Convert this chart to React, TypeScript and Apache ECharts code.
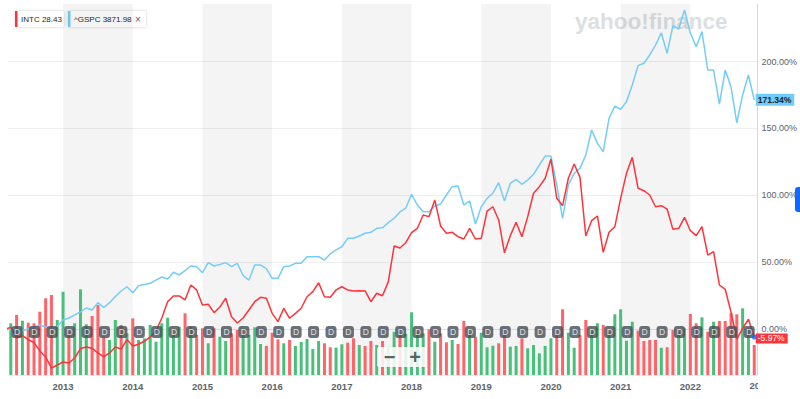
import React, { useEffect, useRef } from 'react';
import * as echarts from 'echarts';

// ---- data (monthly, first month 2012-03) ----
const firstMonth = '2012-03';
const intcPct = [
  0, 1.2, -6.7, -4.9, -7.9, -10.1, -16.4, -20.9, -29.2, -26.9,
  -24.7, -25.4, -21.7, -14.6, -13.5, -14.4, -17.9, -20.9, -17.9, -13.5, -15.0, -7.9,
  -12.7, -11.4, -9.0, -6.0, -1.5, 8.2, 20.4, 24.7, 24.7, 21.7, 32.9, 29.2,
  17.9, 18.5, 12.2, 16.4, 23.0, 9.2, 4.5, 8.2, 14.2, 20.4, 23.7, 23.0,
  11.7, 5.5, 15.5, 8.0, 11.7, 15.5, 24.1, 27.9, 34.6, 24.1, 23.7, 29.2,
  31.6, 29.2, 28.4, 28.6, 28.5, 20.4, 26.7, 24.9, 35.4, 62.1, 60.6, 64.5,
  72.0, 75.3, 85.2, 84.0, 96.4, 77.0, 71.6, 72.3, 69.0, 67.3, 75.3, 67.3,
  67.8, 88.2, 91.4, 81.5, 57.0, 69.8, 79.8, 69.0, 84.0, 101.5, 106.4, 112.7,
  127.1, 97.7, 92.2, 112.7, 123.4, 113.4, 69.5, 81.0, 84.5, 57.3, 72.3, 76.5,
  97.7, 116.4, 128.4, 105.2, 103.4, 100.2, 91.4, 92.2, 89.7, 74.5, 75.3, 83.5,
  73.5, 69.8, 76.5, 55.3, 57.8, 32.9, 29.7, 12.7, -7.5, 0.5, 7.3, -5.97,
];
const gspcPct = [
  0, -0.3, -1.5, -1.3, 0, 1.5, 3.0, 1.5, 0, 1.9,
  6.7, 8.2, 10.5, 12.7, 15.7, 14.2, 19.7, 16.1, 19.7, 24.3, 28.4, 31.6,
  27.1, 32.4, 33.3, 34.2, 36.6, 38.9, 37.4, 42.4, 40.4, 43.7, 47.1, 46.6,
  42.1, 49.6, 47.1, 48.2, 49.6, 46.6, 49.1, 40.0, 36.6, 47.9, 47.9, 45.2,
  37.9, 37.9, 46.6, 47.1, 49.1, 49.1, 54.1, 54.1, 54.1, 51.6, 56.1, 59.1,
  61.5, 67.8, 67.8, 69.5, 71.6, 72.3, 75.3, 75.7, 79.5, 82.8, 87.5, 90.3,
  100.7, 92.7, 87.7, 87.7, 92.0, 93.5, 100.2, 106.4, 106.9, 92.7, 95.7, 78.5,
  91.4, 97.7, 101.5, 109.4, 95.7, 108.9, 111.9, 108.2, 111.4, 115.7, 122.6, 129.3,
  129.3, 107.7, 82.8, 107.7, 116.4, 120.1, 130.1, 148.8, 138.8, 132.6, 157.5, 166.7,
  164.3, 169.9, 182.4, 196.9, 198.7, 204.9, 212.3, 221.5, 206.1, 226.8, 224.3, 238.5,
  221.1, 211.1, 222.3, 193.6, 193.6, 168.2, 193.6, 181.2, 154.2, 175.0, 189.9, 171.34,
];
// INTC monthly volume (millions of shares)
const intcVolume = [
  500, 517, 600, 543, 523, 517, 633, 767, 800, 550,
  833, 433, 517, 857, 507, 590, 700, 383, 350, 550, 500, 417,
  567, 350, 367, 500, 333, 517, 573, 400, 483, 617, 483, 400,
  467, 317, 467, 383, 340, 417, 450, 400, 400, 477, 310, 290,
  423, 357, 317, 350, 290, 330, 360, 260, 340, 317, 277, 273,
  307, 323, 367, 300, 290, 340, 300, 340, 277, 433, 400, 410,
  627, 433, 417, 457, 333, 417, 327, 350, 310, 540, 417, 383,
  423, 277, 293, 317, 400, 283, 290, 367, 267, 300, 217, 290,
  367, 400, 657, 423, 273, 400, 550, 433, 517, 500, 433, 607,
  657, 343, 533, 443, 340, 350, 350, 273, 277, 450, 433, 467,
  610, 517, 577, 433, 533, 540, 540, 617, 607, 667, 467, 300,
];
const dividendDates = [
  '2012-05-03', '2012-08-03', '2012-11-05',
  '2013-02-05', '2013-05-05', '2013-08-05', '2013-11-05',
  '2014-02-05', '2014-05-05', '2014-08-05', '2014-11-05',
  '2015-02-05', '2015-05-05', '2015-08-05', '2015-11-05',
  '2016-02-05', '2016-05-05', '2016-08-05', '2016-11-05',
  '2017-02-05', '2017-05-05', '2017-08-05', '2017-11-05',
  '2018-02-05', '2018-05-05', '2018-08-05', '2018-11-05',
  '2019-02-05', '2019-05-05', '2019-08-05', '2019-11-05',
  '2020-02-05', '2020-05-05', '2020-08-05', '2020-11-05',
  '2021-02-05', '2021-05-05', '2021-08-05', '2021-11-05',
  '2022-02-05', '2022-05-05', '2022-08-05', '2022-11-05',
];
const yearTicks = [2013, 2014, 2015, 2016, 2017, 2018, 2019, 2020, 2021, 2022];
const shadedYears = [2013, 2015, 2017, 2019, 2021];
const pctTicks = [0, 50, 100, 150, 200];
const tickers = ['INTC', '^GSPC'];
const lastPrices = ['28.43', '3871.98'];

const X_MIN = 2012.21;
const X_MAX = 2022.963;
const FONT = '"Liberation Sans", Arial, Helvetica, sans-serif';
const RED = '#ff333a';
const BLUE = '#74cdf9';

function dateToYear(d: string): number {
  const p = d.split('-').map(Number);
  const day = p[2] || 1;
  return p[0] + (p[1] - 1) / 12 + (day - 1) / 365;
}
const [fy, fm] = firstMonth.split('-').map(Number);
const months = intcPct.map((_, i) => {
  const t = fm - 1 + i;
  return `${fy + Math.floor(t / 12)}-${String((t % 12) + 1).padStart(2, '0')}`;
});
const monthX = months.map((m) => dateToYear(m));

export default function App() {
  const ref = useRef<HTMLDivElement>(null);
  useEffect(() => {
    document.body.style.margin = '0';
    if (!ref.current) return;
    const chart = echarts.init(ref.current, null, { renderer: 'svg' });
    const last = intcPct.length - 1;
    const option: any = {
      animation: false,
      textStyle: { fontFamily: FONT },
      grid: { left: 8, right: 39.3, top: 4, bottom: 24 },
      xAxis: [
        {
          type: 'value', min: X_MIN, max: X_MAX,
          axisLine: { show: true, lineStyle: { color: '#e2e2e2' } },
          axisTick: { show: false, customValues: yearTicks },
          axisLabel: {
            customValues: yearTicks, formatter: (v: number) => String(Math.round(v)),
            color: '#5b636a', fontSize: 9.5, fontWeight: 'bold', margin: 6,
          },
          splitLine: { show: false },
        },
        {
          type: 'value', position: 'top', min: X_MIN, max: X_MAX,
          axisLine: { show: true, lineStyle: { color: '#ebebeb' } },
          axisTick: { show: false }, axisLabel: { show: false }, splitLine: { show: false },
        },
      ],
      yAxis: [
        {
          type: 'value', position: 'right', min: -34.4, max: 243,
          axisLine: { show: true, lineStyle: { color: '#d6d6d6' } },
          axisTick: { show: false, customValues: pctTicks },
          axisLabel: {
            customValues: pctTicks, formatter: (v: number) => v.toFixed(2) + '%',
            color: '#5b636a', fontSize: 9, margin: 4, lineHeight: 8,
          },
          splitLine: { show: true, lineStyle: { color: '#eeeeee' } },
        },
        { type: 'value', min: 0, max: 3710, show: false, splitLine: { show: false } },
      ],
      series: [
        {
          type: 'line', name: 'bands', silent: true, z: 1, clip: true,
          data: monthX.map((x, i) => [x, gspcPct[i]]),
          lineStyle: { width: 0, opacity: 0 }, showSymbol: false,
          markArea: {
            silent: true,
            itemStyle: { color: 'rgba(0,0,0,0.045)' },
            data: shadedYears.map((y) => [{ xAxis: y }, { xAxis: y + 1 }]),
          },
        },
        {
          type: 'bar', name: 'volume', xAxisIndex: 0, yAxisIndex: 1, z: 2, barWidth: 3, clip: true,
          data: monthX.map((x, i) => ({
            value: [x, x < X_MIN ? '-' : intcVolume[i]],
            itemStyle: { color: i > 0 && intcPct[i] < intcPct[i - 1] ? '#ff6469' : '#48bf7b' },
          })),
        },
        {
          type: 'line', name: tickers[1], z: 3, showSymbol: false, clip: true,
          data: monthX.map((x, i) => [x, gspcPct[i]]),
          lineStyle: { color: BLUE, width: 1.5 }, itemStyle: { color: BLUE },
          endLabel: {
            show: true, distance: 1.5,
            formatter: () => gspcPct[last].toFixed(2) + '%',
            backgroundColor: '#6fcdf8', color: '#1c2228', fontSize: 8.5, fontWeight: 'bold',
            padding: [2, 3, 1, 2],
          },
        },
        {
          type: 'line', name: tickers[0], z: 4, showSymbol: false, clip: true,
          data: monthX.map((x, i) => [x, intcPct[i]]),
          lineStyle: { color: RED, width: 1.5 }, itemStyle: { color: RED },
          endLabel: {
            show: true, distance: 1.5, offset: [0, 1.5],
            formatter: () => intcPct[last].toFixed(2) + '%',
            backgroundColor: RED, color: '#ffffff', fontSize: 8.5, lineHeight: 9,
            padding: [1, 3, 0, 2],
          },
        },
        {
          type: 'scatter', name: 'dividends', z: 5, silent: true,
          data: dividendDates.map((d) => [dateToYear(d), 0]),
          symbol: 'roundRect', symbolSize: [11, 12], symbolOffset: [0, 3],
          itemStyle: { color: '#464e56' },
          label: { show: true, position: 'inside', formatter: 'D', color: '#ffffff', fontSize: 8.5 },
        },
        {
          type: 'scatter', name: 'last', z: 6, silent: true,
          data: [[monthX[last], intcPct[last]]],
          symbol: 'circle', symbolSize: 5, itemStyle: { color: '#0f69ff' },
        },
      ],
    };
    chart.setOption(option);

    const x2023 = chart.convertToPixel({ xAxisIndex: 0 }, 2023) as number;
    const yBottom = chart.convertToPixel({ yAxisIndex: 0 }, -34.4) as number;
    const xRight = chart.convertToPixel({ xAxisIndex: 0 }, X_MAX) as number;

    chart.setOption({
      graphic: [
        {
          type: 'text', z: 0, left: 575, top: 10, silent: true,
          style: { text: 'yahoo!finance', fontSize: 22.5, fontWeight: 900, fill: '#dcdfe2', fontFamily: FONT },
        },
        {
          type: 'text', z: 20, x: x2023, y: yBottom + 10, silent: true,
          style: { text: '2023', fontSize: 9.5, fontWeight: 'bold', fill: '#5b636a', align: 'center', verticalAlign: 'middle', fontFamily: FONT },
        },
        {
          type: 'rect', z: 21, silent: true,
          shape: { x: xRight + 0.5, y: yBottom + 2, width: 60, height: 30 },
          style: { fill: '#ffffff' },
        },
        {
          type: 'group', z: 30,
          children: [
            { type: 'rect', shape: { x: 15, y: 11, width: 49, height: 16 }, style: { fill: '#ffffff', shadowBlur: 3, shadowColor: 'rgba(0,0,0,0.18)' } },
            { type: 'rect', shape: { x: 15, y: 11, width: 2.5, height: 16 }, style: { fill: RED } },
            { type: 'text', x: 21, y: 19.5, style: { text: `${tickers[0]} ${lastPrices[0]}`, fontSize: 8, fill: '#232a31', verticalAlign: 'middle', fontFamily: FONT } },
            { type: 'rect', shape: { x: 68, y: 11, width: 78, height: 16 }, style: { fill: '#ffffff', shadowBlur: 3, shadowColor: 'rgba(0,0,0,0.18)' } },
            { type: 'rect', shape: { x: 68, y: 11, width: 2.5, height: 16 }, style: { fill: BLUE } },
            { type: 'text', x: 74, y: 19.5, style: { text: `${tickers[1]} ${lastPrices[1]}`, fontSize: 8, fill: '#232a31', verticalAlign: 'middle', fontFamily: FONT } },
            { type: 'text', x: 138, y: 19.5, style: { text: '×', fontSize: 10, fill: '#5b636a', align: 'center', verticalAlign: 'middle', fontFamily: FONT } },
          ],
        },
        {
          type: 'rect', z: 40, silent: true,
          shape: { x: 377, y: 347, width: 50, height: 20, r: 2 },
          style: { fill: 'rgba(255,255,255,0.85)', shadowBlur: 2, shadowColor: 'rgba(0,0,0,0.08)' },
        },
        {
          type: 'text', z: 41, silent: true, x: 389.5, y: 357,
          style: { text: '−', fontSize: 20, fontWeight: 'bold', fill: '#5b636a', align: 'center', verticalAlign: 'middle', fontFamily: FONT },
        },
        {
          type: 'text', z: 41, silent: true, x: 415, y: 357,
          style: { text: '+', fontSize: 20, fontWeight: 'bold', fill: '#5b636a', align: 'center', verticalAlign: 'middle', fontFamily: FONT },
        },
        {
          type: 'rect', z: 30, silent: true,
          shape: { x: 795, y: 187, width: 10, height: 25, r: 3 },
          style: { fill: '#0f69ff' },
        },
      ],
    });
    return () => chart.dispose();
  }, []);
  return <div ref={ref} style={{ width: 800, height: 399 }} />;
}
